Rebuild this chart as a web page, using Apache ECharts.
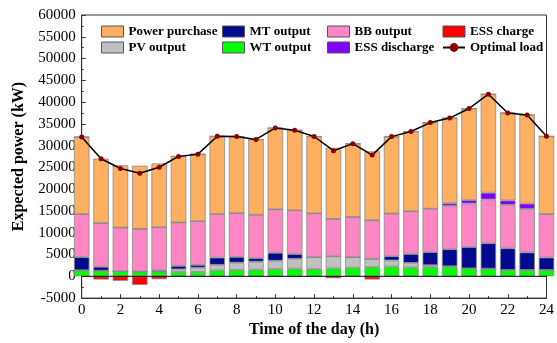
<!DOCTYPE html>
<html>
<head>
<meta charset="utf-8">
<script src="https://cdn.jsdelivr.net/npm/echarts@6/dist/echarts.min.js"></script>
<style>html,body{margin:0;padding:0;background:#fff}#c{width:557px;height:343px}</style>
</head>
<body>
<div id="c"></div>
<script>
var hours = ['0','1','2','3','4','5','6','7','8','9','10','11','12','13','14','15','16','17','18','19','20','21','22','23','24'];
var wtOutput = [1385,1300,1160,1100,1100,1020,1020,1385,1460,1530,1680,1760,1650,1820,1980,2110,2260,2040,2110,2200,1820,1760,1460,1460,1460];
var pvOutput = [0,0,0,0,0,580,960,1245,1680,1830,1900,2260,2750,2790,2420,1910,1390,1040,440,100,0,0,0,0,0];
var mtOutput = [3015,900,0,0,285,800,650,1680,1320,810,1830,1100,0,0,0,0,960,2040,3010,3920,4910,5840,4980,4030,2850];
var bbOutput = [9890,10030,10040,9800,9885,9970,10040,9970,10040,9960,9970,10040,10050,8570,9220,8860,9810,9820,9960,9960,9970,10050,9960,9960,9980];
var essDischarge = [0,0,0,0,0,0,0,0,0,0,0,0,0,0,0,0,0,0,0,590,800,1540,1030,1250,0];
var powerPurchase = [17710,14800,14300,14500,14660,15170,15380,17870,17580,17290,18680,18380,17650,16320,16840,15820,17660,18310,19780,19560,21030,22630,20080,20360,17860];
var essCharge = [0,-740,-1030,-1980,-670,0,0,0,0,0,0,0,0,-440,0,-740,0,0,0,0,0,0,0,0,0];
var optimalLoad = [32000,27000,24750,23650,25050,27540,28050,32150,32080,31420,34060,33540,32100,28850,30460,27830,32080,33250,35300,36330,38530,41820,37510,37060,32150];
var xTickMin = 0, xTickMax = 24, xTickStep = 2;

var FONT = '"Liberation Serif", "Times New Roman", serif';
var chart = echarts.init(document.getElementById('c'));

function barSeries(name, data, color){
  return {
    name: name, type: 'bar', stack: 'total', data: data, barWidth: 15.5,
    xAxisIndex: 0,
    itemStyle: { color: color, borderColor: '#8a8a8a', borderWidth: 0.8 },
    emphasis: { disabled: true }
  };
}

var legendBase = {
  orient: 'vertical', itemWidth: 22, itemHeight: 11, itemGap: 3, padding: 0,
  textStyle: { fontFamily: FONT, fontWeight: 'bold', fontSize: 13, color: '#000' },
  selectedMode: false
};
function legendAt(left, names){
  return Object.assign({}, legendBase, {
    left: left, top: 25,
    data: names.map(function(n){
      if (n === 'Optimal load') return { name: n, itemStyle: { color: '#8B0000' } };
      return { name: n, icon: 'rect', itemStyle: { borderColor: '#555', borderWidth: 1 } };
    })
  });
}

chart.setOption({
  animation: false,
  backgroundColor: '#fff',
  grid: { left: 81.7, right: 7, top: 15, bottom: 32.3, show: true, borderColor: '#333', borderWidth: 1 },
  legend: [
    legendAt(101, ['Power purchase','PV output']),
    legendAt(222, ['MT output','WT output']),
    legendAt(327, ['BB output','ESS discharge']),
    legendAt(442, ['ESS charge','Optimal load'])
  ],
  xAxis: [{
    type: 'category', data: hours, boundaryGap: false,
    axisLine: { show: false }, axisTick: { show: false }, axisLabel: { show: false }, splitLine: { show: false }
  }, {
    type: 'value', min: xTickMin, max: xTickMax, interval: xTickStep, position: 'bottom',
    name: 'Time of the day (h)', nameLocation: 'middle', nameGap: 22,
    nameTextStyle: { fontFamily: FONT, fontWeight: 'bold', fontSize: 16, color: '#000' },
    axisLine: { onZero: false, lineStyle: { color: '#333' } },
    axisTick: { inside: true, length: 4, lineStyle: { color: '#333' } },
    minorTick: { show: true, splitNumber: 2, length: 2, lineStyle: { color: '#333' } },
    axisLabel: { fontFamily: FONT, fontSize: 15, color: '#000', margin: 4 },
    splitLine: { show: false }
  }],
  yAxis: {
    type: 'value', min: -5000, max: 60000, interval: 5000,
    name: 'Expected power (kW)', nameLocation: 'middle', nameGap: 55,
    nameTextStyle: { fontFamily: FONT, fontWeight: 'bold', fontSize: 16, color: '#000' },
    axisLine: { show: true, lineStyle: { color: '#333' } },
    axisTick: { show: true, inside: true, length: 4, lineStyle: { color: '#333' } },
    minorTick: { show: true, splitNumber: 2, length: 2, lineStyle: { color: '#333' } },
    axisLabel: { fontFamily: FONT, fontSize: 15, color: '#000', margin: 6, formatter: function(v){ return String(v); } },
    splitLine: { show: false }
  },
  series: [
    barSeries('WT output', wtOutput, '#00FF00'),
    barSeries('PV output', pvOutput, '#C0C0C0'),
    barSeries('MT output', mtOutput, '#000A8F'),
    barSeries('BB output', bbOutput, '#FF86C4'),
    barSeries('ESS discharge', essDischarge, '#8000FF'),
    barSeries('Power purchase', powerPurchase, '#FFAF60'),
    barSeries('ESS charge', essCharge, '#FF0000'),
    {
      name: 'Optimal load', type: 'line', data: optimalLoad, xAxisIndex: 0,
      symbol: 'circle', symbolSize: 5, z: 10,
      lineStyle: { color: '#000', width: 1.5 },
      itemStyle: { color: '#8B0000', borderWidth: 0 },
      emphasis: { disabled: true }
    },
    {
      type: 'line', xAxisIndex: 1, data: [[xTickMin,0],[xTickMax,0]], symbol: 'none', silent: true,
      lineStyle: { color: '#000', width: 1 }, z: 9
    }
  ]
});
</script>
</body>
</html>
